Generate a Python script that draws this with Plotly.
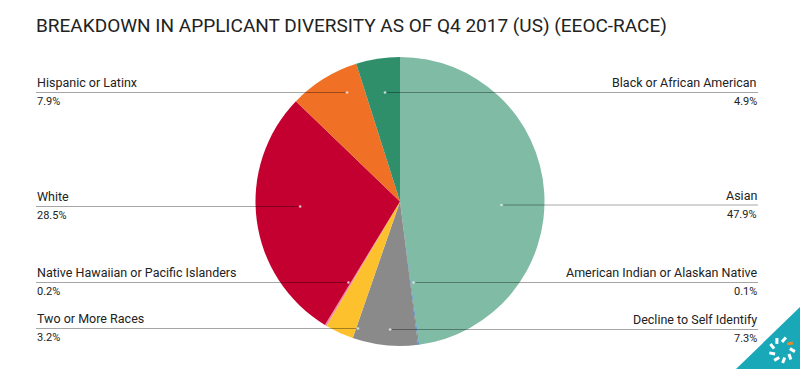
import math
import plotly.graph_objects as go

# ---- data ----
categories = ["Asian", "American Indian or Alaskan Native", "Decline to Self Identify",
              "Two or More Races", "Native Hawaiian or Pacific Islanders", "White",
              "Hispanic or Latinx", "Black or African American"]
shares = [47.9, 0.1, 7.3, 3.2, 0.2, 28.5, 7.9, 4.9]
pct_labels = ["47.9%", "0.1%", "7.3%", "3.2%", "0.2%", "28.5%", "7.9%", "4.9%"]
title_text = "BREAKDOWN IN APPLICANT DIVERSITY AS OF Q4 2017 (US) (EEOC-RACE)"

# ---- style / layout ----
colors = ["#80bba5", "#3f7fbf", "#8a8a8a", "#fcc12c", "#ea86a6", "#c3002f", "#f07025", "#2f8f6b"]
label_side = ["right", "right", "right", "left", "left", "left", "left", "right"]
label_row_y = [205, 282.5, 329.5, 328.5, 282.5, 206.5, 92.5, 92.5]  # px from top

W, H = 800, 369
CX, CY, R = 400.5, 201.5, 144.5
LEFT_X, RIGHT_X = 36, 758
ANCHOR_K = 0.7
FONT = "Roboto, sans-serif"


def px(x):
    return x / W


def py(y):
    return 1 - y / H


fig = go.Figure()
fig.add_trace(go.Pie(
    labels=categories, values=shares, sort=False, direction="clockwise", rotation=0,
    marker=dict(colors=colors, line=dict(width=0)), textinfo="none",
    hoverinfo="label+percent", showlegend=False,
    domain=dict(x=[0, 1], y=[py(CY + R), py(CY - R)]),
))

shapes = []
annotations = []
total = sum(shares)
cum = 0.0
for name, v, pl, side, ry in zip(categories, shares, pct_labels, label_side, label_row_y):
    mid = (cum + v / 2) / total * 2 * math.pi
    cum += v
    ax = CX + ANCHOR_K * R * math.sin(mid)
    if side == "left":
        x0, x1 = LEFT_X, ax - 2
        xa, tx = "left", LEFT_X - 1
    else:
        x0, x1 = ax + 2, RIGHT_X
        xa, tx = "right", RIGHT_X + 1
    shapes.append(dict(type="line", xref="paper", yref="paper", x0=px(x0), x1=px(x1),
                       y0=py(ry), y1=py(ry), line=dict(color="rgba(0,0,0,0.35)", width=1),
                       layer="above"))
    shapes.append(dict(type="circle", xref="paper", yref="paper",
                       x0=px(ax - 1.3), x1=px(ax + 1.3), y0=py(ry - 1.3), y1=py(ry + 1.3),
                       fillcolor="rgba(235,235,235,0.8)", line=dict(width=0), layer="above"))
    annotations.append(dict(xref="paper", yref="paper", x=px(tx), y=py(ry - 0.5), xanchor=xa,
                            yanchor="bottom", text=name, showarrow=False,
                            font=dict(family=FONT, size=12.5, color="#222222")))
    annotations.append(dict(xref="paper", yref="paper", x=px(tx), y=py(ry + 0.5), xanchor=xa,
                            yanchor="top", text=pl, showarrow=False,
                            font=dict(family=FONT, size=11, color="#222222")))

annotations.append(dict(xref="paper", yref="paper", x=px(34), y=py(25), xanchor="left",
                        yanchor="middle", text=title_text, showarrow=False,
                        font=dict(family=FONT, size=19, color="#222222")))

# corner logo
shapes.append(dict(type="path", xref="paper", yref="paper",
                   path=f"M {px(736)},{py(369)} L {px(800)},{py(307)} L {px(800)},{py(369)} Z",
                   fillcolor="#19a8b8", line=dict(width=0), layer="above"))
lcx, lcy = 782, 350
for i in range(9):
    a = 2 * math.pi * i / 9
    r0, r1 = 8, 13
    col = "#e8892c" if i == 1 else "white"
    xs0, ys0 = lcx + r0 * math.sin(a), lcy - r0 * math.cos(a)
    xs1, ys1 = lcx + r1 * math.sin(a + 0.3), lcy - r1 * math.cos(a + 0.3)
    shapes.append(dict(type="line", xref="paper", yref="paper",
                       x0=px(xs0), y0=py(ys0), x1=px(xs1), y1=py(ys1),
                       line=dict(color=col, width=3), layer="above"))

fig.update_layout(width=W, height=H, margin=dict(l=0, r=0, t=0, b=0),
                  paper_bgcolor="white", plot_bgcolor="white",
                  shapes=shapes, annotations=annotations)
fig.write_html("out.html", config={"displayModeBar": False},
               post_script="document.body.style.margin='0';document.body.style.overflow='hidden';")
